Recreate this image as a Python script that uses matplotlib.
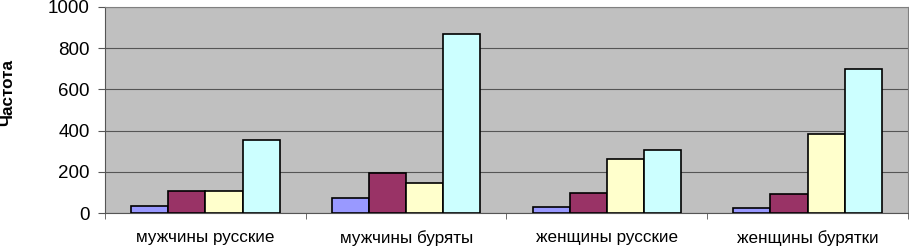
import matplotlib
matplotlib.use("Agg")
import matplotlib.pyplot as plt
import numpy as np

categories = ["мужчины русские", "мужчины буряты", "женщины русские", "женщины бурятки"]
s1 = [34, 73, 29, 24]
s2 = [107, 194, 97, 92]
s3 = [107, 146, 262, 383]
s4 = [354, 869, 306, 699]
series = [s1, s2, s3, s4]
colors = ["#9999FF", "#993366", "#FFFFCC", "#CCFFFF"]

plt.rcParams['font.family'] = ['Liberation Sans', 'DejaVu Sans']
fig = plt.figure(figsize=(9.09, 2.47), dpi=100)
ax = fig.add_axes([105/909, 1-213/247, 803/909, 206/247])
ax.set_facecolor("#C0C0C0")

x = np.arange(len(categories))
w = 0.185
for i, (vals, c) in enumerate(zip(series, colors)):
    ax.bar(x + (i - 1.5) * w, vals, width=w, color=c, edgecolor="black", linewidth=1.2, zorder=3)

ax.set_xlim(-0.5, 3.5)
ax.set_ylim(0, 1000)
ax.set_yticks([0, 200, 400, 600, 800, 1000])
ax.yaxis.grid(True, color="#555555", linewidth=0.8, zorder=0)
ax.set_xticks(x)
ax.set_xticklabels(categories, fontsize=12.3)
ax.set_xticks(np.arange(-0.5, 4.0, 1.0), minor=True)
ax.tick_params(axis='x', which='major', length=0, pad=12)
ax.tick_params(axis='x', which='minor', length=4, color="#555555")
ax.tick_params(axis='y', labelsize=13.5, length=5, color="#555555", pad=6)
for s in ["top", "right"]:
    ax.spines[s].set_color("#808080")
for s in ["left", "bottom"]:
    ax.spines[s].set_color("#555555")
fig.text(8/909, 1-92/247, "Частота", fontsize=12.3, fontweight="bold",
         rotation=90, ha="center", va="center")

fig.savefig("out.png", dpi=100)
